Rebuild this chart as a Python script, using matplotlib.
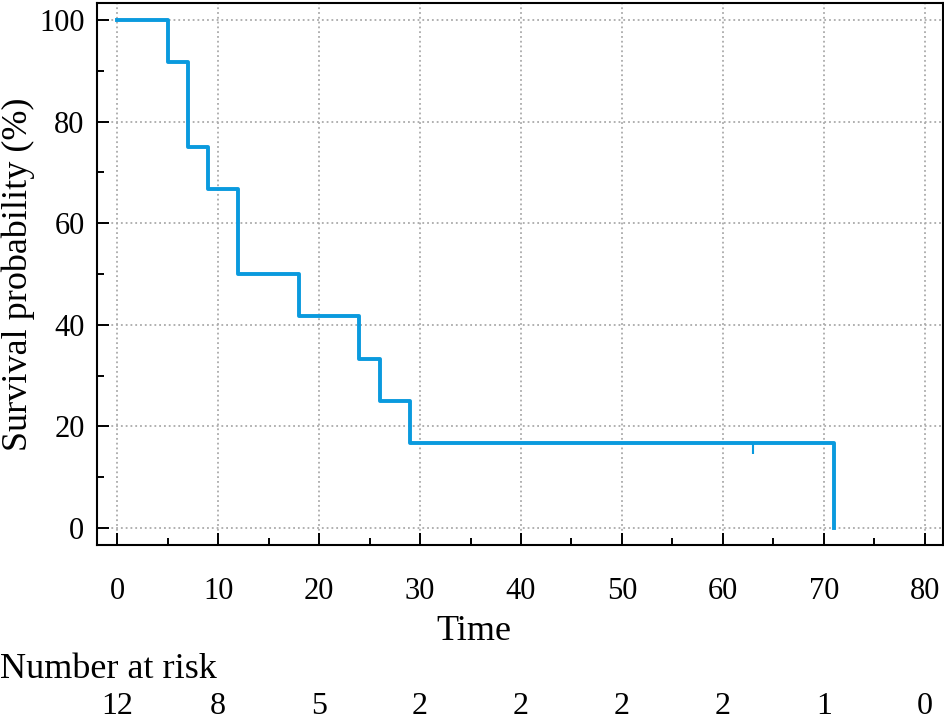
import numpy as np
import matplotlib
matplotlib.use('Agg')
import matplotlib.pyplot as plt
import matplotlib.transforms as mtransforms

# Kaplan-Meier estimate
step_times = [0, 5, 7, 9, 12, 18, 24, 26, 29, 71]
step_surv = [100, 91.67, 75.0, 66.67, 50.0, 41.67, 33.33, 25.0, 16.67, 0.0]
censor_times = [63]
censor_surv = [16.67]

risk_times = [0, 10, 20, 30, 40, 50, 60, 70, 80]
risk_counts = [12, 8, 5, 2, 2, 2, 2, 1, 0]

blue = '#0A9ADE'
plt.rcParams['font.family'] = ['Liberation Serif', 'DejaVu Serif']
fs_tick = 22
fs_lab = 26

fig = plt.figure(figsize=(9.45, 7.24), dpi=100)
ax = fig.add_axes([97/945, 1-545/724, (943-97)/945, (545-3)/724])

ax.step(step_times, step_surv, where='post', color=blue, lw=2.8, zorder=3)
ax.plot(censor_times, censor_surv, linestyle='none', marker=3, markersize=8,
        mew=1.5, color=blue, zorder=3)

ax.set_xlim(-2, 81.8)
ax.set_ylim(-3.35, 103.35)
ax.set_xticks(risk_times)
ax.set_yticks([0, 20, 40, 60, 80, 100])
ax.set_xticks(np.arange(5, 80, 10), minor=True)
ax.set_yticks(np.arange(10, 100, 20), minor=True)
ax.grid(True, which='major', linestyle=':', color='#aaaaaa', lw=1.3)
ax.tick_params(which='both', direction='in', labelsize=fs_tick, width=1.4)
ax.tick_params(which='major', length=8.5)
ax.tick_params(which='minor', length=5)
ax.tick_params(axis='x', which='major', pad=23)
ax.tick_params(axis='y', which='major', pad=9)
for s in ax.spines.values():
    s.set_linewidth(1.5)

fig.text(18/945, 1-274/724, 'Survival probability (%)', fontsize=fs_lab,
         rotation=90, ha='center', va='center')
fig.text(474/945, 1-632/724, 'Time', fontsize=fs_lab, ha='center', va='center')
fig.text(0.0, 1-670/724, 'Number at risk', fontsize=fs_lab, ha='left', va='center')
trans = mtransforms.blended_transform_factory(ax.transData, fig.transFigure)
for t, n in zip(risk_times, risk_counts):
    ax.text(t, 1-707/724, str(n), transform=trans, fontsize=23,
            ha='center', va='center', clip_on=False)

fig.savefig('out.png', dpi=100)
